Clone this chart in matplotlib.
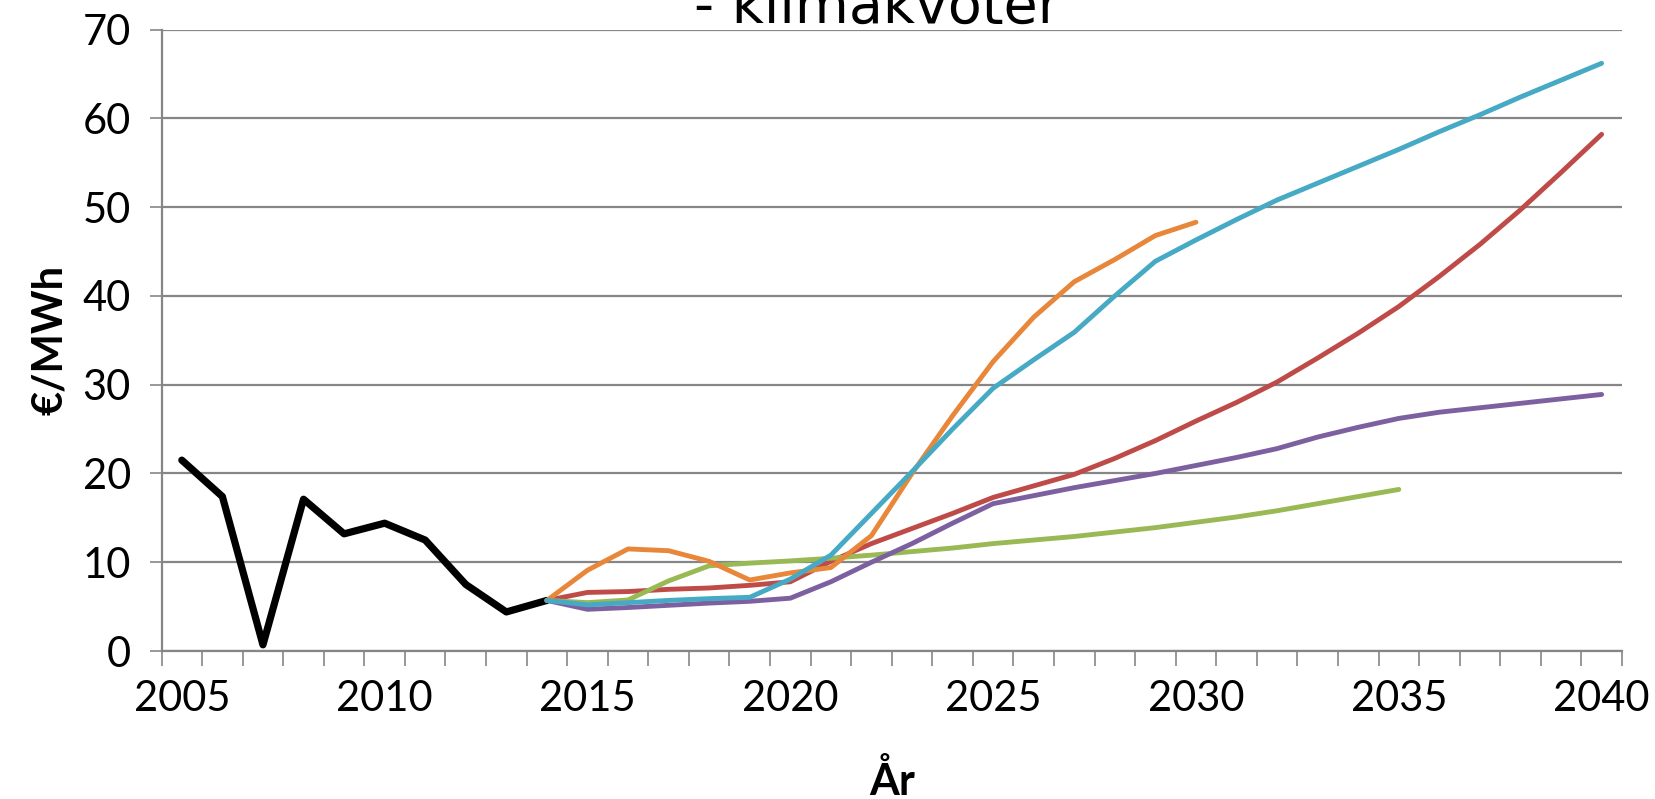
import numpy as np
import matplotlib
matplotlib.use("Agg")
import matplotlib.pyplot as plt

years = list(range(2005, 2041))

# historical price 2005-2014
hist = [21.5, 17.4, 0.7, 17.1, 13.2, 14.4, 12.5, 7.5, 4.4, 5.7]

# scenarios from 2014
red = [5.7, 6.6, 6.7, 6.95, 7.1, 7.4, 7.8, 10.1, 12.1, 13.8, 15.5, 17.3, 18.6, 19.9,
       21.7, 23.7, 25.9, 28.0, 30.3, 33.0, 35.8, 38.8, 42.2, 45.8, 49.7, 53.9, 58.2]
green = [5.7, 5.45, 5.75, 7.9, 9.6, 9.9, 10.15, 10.45, 10.8, 11.2, 11.6, 12.1, 12.5,
         12.9, 13.4, 13.9, 14.5, 15.1, 15.8, 16.6, 17.4, 18.2]
purple = [5.7, 4.7, 4.9, 5.15, 5.4, 5.6, 5.95, 7.8, 10.0, 12.1, 14.4, 16.6, 17.5, 18.4,
          19.2, 20.0, 20.9, 21.8, 22.8, 24.1, 25.2, 26.2, 26.9, 27.4, 27.9, 28.4, 28.9]
orange = [5.7, 9.1, 11.5, 11.3, 10.1, 8.0, 8.8, 9.4, 13.0, 20.0, 26.5, 32.6, 37.6, 41.6,
          44.1, 46.8, 48.3]
teal = [5.7, 5.2, 5.45, 5.7, 5.9, 6.05, 8.1, 10.8, 15.5, 20.2, 25.0, 29.6, 32.8, 35.9,
        40.0, 43.9, 46.3, 48.6, 50.8, 52.7, 54.6, 56.5, 58.5, 60.4, 62.4, 64.3, 66.2]

xlabels = ['2005', '2010', '2015', '2020', '2025', '2030', '2035', '2040']

fig = plt.figure(figsize=(16.55, 7.99), dpi=100)
ax = fig.add_axes([0.0976, 0.1852, 0.8824, 0.7778])

grid_c = '#868686'
start = 2014 - 2005

def pos(n, s=0):
    return np.arange(s, s + n)

kw = dict(solid_capstyle='round', solid_joinstyle='round')
ax.plot(pos(len(hist)), hist, color='black', lw=5.2, zorder=3, **kw)
ax.plot(pos(len(red), start), red, color='#BE4B48', lw=3.5, zorder=4, **kw)
ax.plot(pos(len(green), start), green, color='#98B954', lw=3.5, zorder=4, **kw)
ax.plot(pos(len(purple), start), purple, color='#7D60A0', lw=3.5, zorder=4, **kw)
ax.plot(pos(len(orange), start), orange, color='#E8873A', lw=3.5, zorder=5, **kw)
ax.plot(pos(len(teal), start), teal, color='#46AAC5', lw=3.5, zorder=5, **kw)

ax.set_xlim(-0.5, len(years) - 0.5)
ax.set_ylim(0, 70)
ax.set_yticks(range(0, 71, 10))
ax.yaxis.grid(True, color=grid_c, lw=1.6)
ax.set_axisbelow(True)

ax.set_xticks([years.index(int(l)) for l in xlabels])
ax.set_xticklabels(xlabels)
ax.set_xticks(np.arange(-0.5, len(years), 1), minor=True)
ax.tick_params(axis='x', which='major', length=0, pad=21)
ax.tick_params(axis='x', which='minor', length=11, width=1.2, color=grid_c, direction='out')
ax.tick_params(axis='y', length=9, width=1.2, color=grid_c, pad=13)

for lab in ax.get_xticklabels() + ax.get_yticklabels():
    lab.set_fontfamily('Lato')
    lab.set_fontsize(30)

for s in ['top', 'right']:
    ax.spines[s].set_visible(False)
for s in ['left', 'bottom']:
    ax.spines[s].set_color(grid_c)
    ax.spines[s].set_linewidth(1.6)

ax.set_xlabel('År', fontfamily='Lato', fontweight='bold', fontsize=31, labelpad=30)
ax.set_ylabel('€/MWh', fontfamily='Lato', fontweight='bold', fontsize=30, labelpad=10)

fig.text(0.53, 0.972, '- klimakvoter', ha='center', va='baseline',
         fontfamily='DejaVu Sans', fontsize=40)

fig.savefig('out.png', dpi=100)
